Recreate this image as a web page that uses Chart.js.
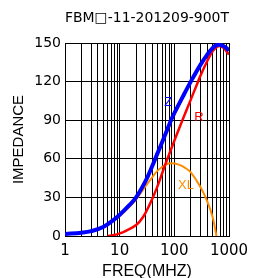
<!DOCTYPE html>
<html>
<head>
<meta charset="utf-8">
<script src="https://cdn.jsdelivr.net/npm/chart.js@4/dist/chart.umd.min.js"></script>
<style>
  body { margin: 0; background: #fff; }
  canvas { display: block; }
</style>
</head>
<body>
<canvas id="impChart" width="263" height="278"></canvas>
<script>
// frequency ticks (MHz), one gridline for each
const freqTicks = [1,2,3,4,5,6,7,8,9,10,20,30,40,50,60,70,80,90,100,200,300,400,500,600,700,800,900,1000];
const impTicks = [0, 30, 60, 90, 120, 150];

// Z
const zFreq = [1, 2, 3, 5, 8, 10, 15, 20, 30, 40, 50, 60, 70, 87, 100, 150, 200, 300, 400, 500, 600, 700, 800, 900, 1000];
const zVals = [1.5, 2.6, 3.8, 7, 13, 16.5, 24, 30, 43, 55, 65, 73, 80, 90, 95.5, 110, 120, 133, 141, 146, 148.5, 148.5, 147.5, 146, 144];

// R
const rFreq = [6, 8, 10, 13, 20, 27, 35, 47.5, 67.5, 100, 150, 200, 260, 300, 400, 500, 600, 700, 800, 900, 1000];
const rVals = [0, 0.8, 2, 4, 8.5, 15, 24, 37, 55, 74, 93, 106, 118, 124.5, 136, 143.5, 147, 147.5, 146, 143.5, 141];

// XL
const xlFreq = [1, 2, 3, 5, 8, 10, 15, 20, 30, 40, 50, 70, 90, 120, 150, 200, 300, 400, 500, 590];
const xlVals = [1.4, 2.5, 3.7, 6.8, 12.5, 15.5, 22.5, 28.5, 39, 46, 51, 55.5, 56.5, 55.5, 53.5, 49.5, 38, 27, 15, 0];

// curve names, placed at (freq, impedance)
const curveNames = ["Z", "R", "XL"];
const nameFreq = [77.5, 283, 163];
const nameImp = [103.6, 92, 39.6];
const nameColors = ["#0000ff", "#ff0000", "#ff8c00"];

function pts(xs, ys) {
    return xs.map((x, i) => ({x: x, y: ys[i]}));
}

const curveLabels = {
    id: "curveLabels",
    afterDatasetsDraw(chart) {
        const ctx = chart.ctx;
        const xs = chart.scales.x, ys = chart.scales.y;
        ctx.save();
        ctx.font = "13px 'Liberation Sans', Arial, sans-serif";
        ctx.textAlign = "center";
        ctx.textBaseline = "middle";
        curveNames.forEach((t, i) => {
            ctx.fillStyle = nameColors[i];
            ctx.fillText(t, xs.getPixelForValue(nameFreq[i]), ys.getPixelForValue(nameImp[i]));
        });
        ctx.restore();
    }
};

new Chart(document.getElementById("impChart"), {
    type: "line",
    data: {
        datasets: [
            {label: "Z", data: pts(zFreq, zVals), borderColor: "#0000ff", borderWidth: 4},
            {label: "R", data: pts(rFreq, rVals), borderColor: "#ff0000", borderWidth: 2.5},
            {label: "XL", data: pts(xlFreq, xlVals), borderColor: "#ff8c00", borderWidth: 2}
        ]
    },
    options: {
        responsive: false,
        animation: false,
        elements: {
            point: {radius: 0},
            line: {tension: 0.4, fill: false}
        },
        layout: {padding: {left: 0, right: 34, top: 0, bottom: 0}},
        plugins: {
            legend: {display: false},
            tooltip: {enabled: false},
            title: {
                display: true,
                text: "FBM\u25A1-11-201209-900T",
                fullSize: false,
                color: "#000",
                font: {family: "'DejaVu Sans'", size: 14.5, weight: "normal", lineHeight: 1.2},
                padding: {top: 10, bottom: 15.6}
            }
        },
        scales: {
            x: {
                type: "logarithmic",
                min: 1,
                max: 1000,
                afterBuildTicks: s => { s.ticks = freqTicks.map(v => ({value: v})); },
                afterFit: s => { s.height = 42; },
                ticks: {
                    autoSkip: false,
                    maxRotation: 0,
                    padding: 6,
                    color: "#000",
                    font: {family: "'DejaVu Sans'", size: 15},
                    callback: (v) => [1, 10, 100, 1000].includes(v) ? String(v) : ""
                },
                grid: {color: "#000", lineWidth: 1, drawTicks: false},
                border: {color: "#000", width: 1},
                title: {
                    display: true,
                    text: "FREQ(MHZ)",
                    color: "#000",
                    font: {family: "'Liberation Sans'", size: 16, lineHeight: 0.8},
                    padding: {top: 0, bottom: 0}
                }
            },
            y: {
                min: 0,
                max: 150,
                afterBuildTicks: s => { s.ticks = impTicks.map(v => ({value: v})); },
                afterFit: s => { s.width = 65; },
                ticks: {
                    padding: 4,
                    color: "#000",
                    font: {family: "'DejaVu Sans'", size: 14}
                },
                grid: {color: "#000", lineWidth: 1, drawTicks: false},
                border: {color: "#000", width: 1},
                title: {
                    display: true,
                    text: "IMPEDANCE",
                    color: "#000",
                    font: {family: "'Liberation Sans'", size: 15, lineHeight: 1.2},
                    padding: {top: 10, bottom: 0}
                }
            }
        }
    },
    plugins: [curveLabels]
});
</script>
</body>
</html>
